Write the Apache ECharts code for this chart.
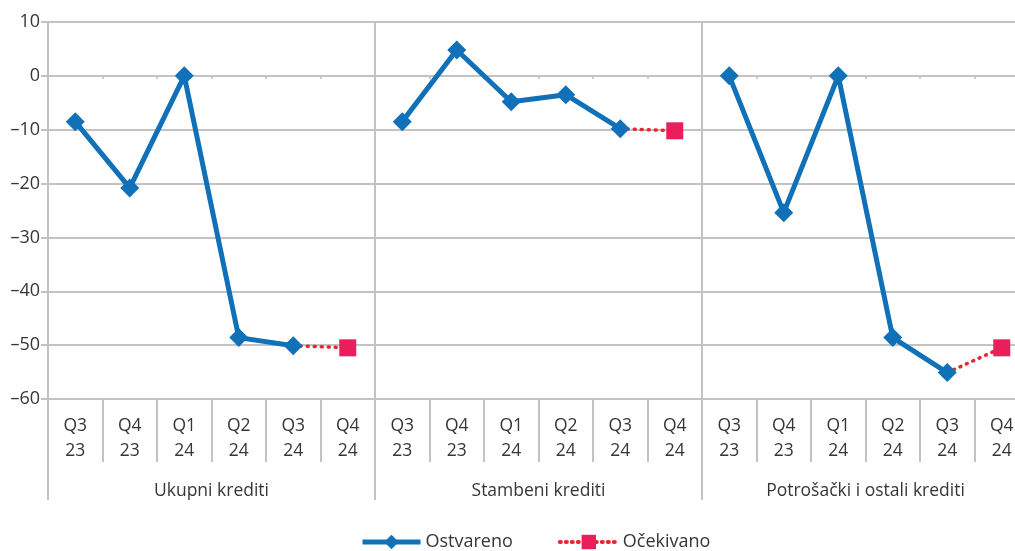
<!DOCTYPE html>
<html>
<head>
<meta charset="utf-8">
<script src="https://cdn.jsdelivr.net/npm/echarts@6/dist/echarts.min.js"></script>
<style>html,body{margin:0;padding:0;background:#fff}#c{width:1015px;height:551px}</style>
</head>
<body>
<div id="c"></div>
<script>
const groups = ['Ukupni krediti', 'Stambeni krediti', 'Potrošački i ostali krediti'];
const quarters = ['Q3\n23', 'Q4\n23', 'Q1\n24', 'Q2\n24', 'Q3\n24', 'Q4\n24'];
const ukupniActual = [-8.5, -20.8, 0, -48.6, -50.1];
const stambeniActual = [-8.5, 4.8, -4.8, -3.5, -9.8];
const potrosackiActual = [0, -25.4, 0, -48.6, -55.1];
const expectedQ4 = [-50.5, -10.2, -50.5];
const yTicks = [10, 0, -10, -20, -30, -40, -50, -60];

const actualGroups = [ukupniActual, stambeniActual, potrosackiActual];
const cats = [];
const actual = [];
const expected = [];
groups.forEach((g, gi) => {
  quarters.forEach((q, qi) => {
    cats.push(q);
    const a = actualGroups[gi];
    actual.push(qi < a.length ? a[qi] : null);
    if (qi === 4) expected.push({ value: a[4], symbol: 'none' });
    else if (qi === 5) expected.push(expectedQ4[gi]);
    else expected.push(null);
  });
});

const FONT = '"Open Sans", "Noto Sans", sans-serif';
const TXT = '#363636';
const GRID = '#c3c3c3';
const BLUE = '#1070b8';
const RED = '#e8262f';
const PINK = '#e91e5a';

const chart = echarts.init(document.getElementById('c'));
chart.setOption({
  animation: false,
  textStyle: { fontFamily: FONT },
  grid: { left: 48, width: 981, top: 22, bottom: 152, containLabel: false, outerBoundsMode: 'none' },
  legend: {
    top: 533,
    left: 360,
    padding: 0,
    itemWidth: 58,
    itemHeight: 18,
    itemGap: 45,
    textStyle: { fontFamily: FONT, fontSize: 18, color: TXT },
    data: [
      { name: 'Ostvareno', lineStyle: { width: 5, color: BLUE } },
      { name: 'Očekivano', lineStyle: { width: 4, color: RED, type: [1, 5], cap: 'round' } }
    ]
  },
  xAxis: [
    {
      type: 'category',
      data: cats,
      position: 'bottom',
      boundaryGap: true,
      axisLine: { show: true, onZero: false, lineStyle: { color: GRID, width: 2 } },
      axisTick: { show: true, interval: 0, length: 63, lineStyle: { color: GRID, width: 2 } },
      axisLabel: { interval: 0, margin: 15, fontSize: 17.5, color: TXT, lineHeight: 25, fontFamily: FONT },
      splitLine: { show: false }
    },
    {
      type: 'category',
      data: groups,
      position: 'bottom',
      boundaryGap: true,
      axisLine: { show: false, onZero: false },
      axisTick: { show: true, interval: 0, length: 101, lineStyle: { color: GRID, width: 2 } },
      axisLabel: { interval: 0, margin: 83, fontSize: 17.5, color: TXT, fontFamily: FONT },
      splitLine: { show: true, interval: 0, lineStyle: { color: GRID, width: 2 } }
    },
    {
      type: 'category',
      data: cats,
      position: 'bottom',
      boundaryGap: true,
      axisLine: { show: false, onZero: true },
      axisTick: { show: true, interval: 0, length: 3, lineStyle: { color: GRID, width: 2 } },
      axisLabel: { show: false },
      splitLine: { show: false }
    }
  ],
  yAxis: {
    type: 'value',
    min: -60,
    max: 10,
    interval: 10,
    axisLine: { show: false },
    axisTick: { show: true, length: 7, lineStyle: { color: GRID, width: 2 } },
    axisLabel: {
      margin: 8, fontSize: 18, color: TXT, fontFamily: FONT,
      formatter: v => (v < 0 ? '–' + Math.abs(v) : String(v))
    },
    splitLine: { show: true, lineStyle: { color: GRID, width: 2 } }
  },
  series: [
    {
      name: 'Očekivano',
      type: 'line',
      data: expected,
      connectNulls: false,
      symbol: 'rect',
      symbolSize: 17,
      lineStyle: { color: RED, width: 3.5, type: [1, 6], cap: 'round' },
      itemStyle: { color: PINK },
      z: 2
    },
    {
      name: 'Ostvareno',
      type: 'line',
      data: actual,
      connectNulls: false,
      symbol: 'diamond',
      symbolSize: 19,
      lineStyle: { color: BLUE, width: 5 },
      itemStyle: { color: BLUE },
      z: 3
    }
  ]
});
</script>
</body>
</html>
